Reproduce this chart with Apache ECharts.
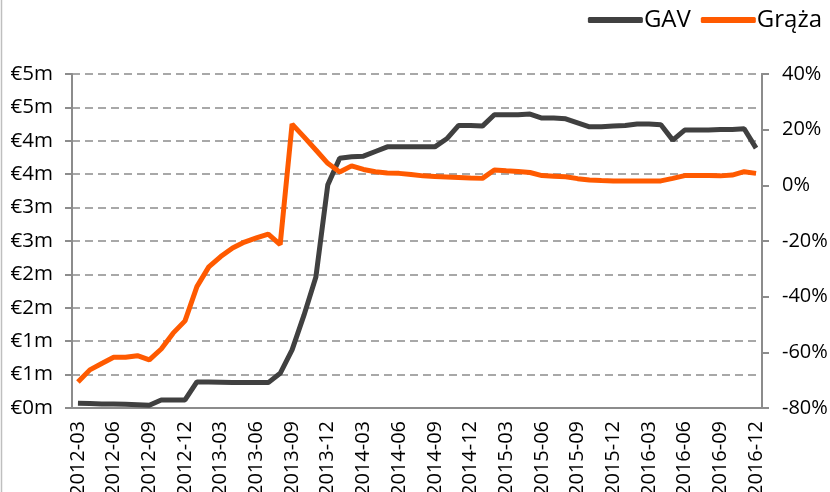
<!DOCTYPE html>
<html>
<head>
<meta charset="utf-8">
<script src="https://cdn.jsdelivr.net/npm/echarts@6/dist/echarts.min.js"></script>
<style>
html,body{margin:0;padding:0;background:#fff;}
#chart{width:830px;height:492px;}
</style>
</head>
<body>
<div id="chart"></div>
<script>
const months = [
  "2012-03","2012-04","2012-05","2012-06","2012-07","2012-08","2012-09","2012-10","2012-11","2012-12",
  "2013-01","2013-02","2013-03","2013-04","2013-05","2013-06","2013-07","2013-08","2013-09","2013-10","2013-11","2013-12",
  "2014-01","2014-02","2014-03","2014-04","2014-05","2014-06","2014-07","2014-08","2014-09","2014-10","2014-11","2014-12",
  "2015-01","2015-02","2015-03","2015-04","2015-05","2015-06","2015-07","2015-08","2015-09","2015-10","2015-11","2015-12",
  "2016-01","2016-02","2016-03","2016-04","2016-05","2016-06","2016-07","2016-08","2016-09","2016-10","2016-11","2016-12"
];
// GAV in € millions (left axis)
const gav = [
  0.07,0.067,0.06,0.06,0.055,0.05,0.04,0.12,0.12,0.12,
  0.39,0.39,0.385,0.38,0.38,0.38,0.38,0.52,0.87,1.39,1.96,3.34,
  3.74,3.76,3.77,3.84,3.91,3.91,3.91,3.91,3.91,4.03,4.23,4.23,
  4.22,4.39,4.39,4.39,4.40,4.34,4.34,4.33,4.27,4.21,4.21,4.22,
  4.23,4.25,4.25,4.24,4.01,4.16,4.16,4.16,4.17,4.17,4.18,3.89
];
// Grąża in % (right axis)
const graza = [
  -70.7,-66.3,-64.0,-61.8,-61.8,-61.2,-62.7,-58.8,-53.1,-48.7,
  -36.4,-29.3,-25.6,-22.5,-20.4,-18.9,-17.5,-21.3,22.0,17.4,12.7,7.9,
  4.8,7.0,5.7,4.9,4.4,4.3,3.9,3.4,3.2,3.0,2.8,2.6,
  2.5,5.5,5.2,5.0,4.6,3.5,3.3,3.1,2.4,1.9,1.7,1.6,
  1.6,1.6,1.6,1.6,2.5,3.5,3.5,3.5,3.4,3.7,4.9,4.3
];
const leftTicks = {min: 0, max: 5, step: 0.5};
const rightTicks = {min: -80, max: 40, step: 20};
const seriesNames = ["GAV", "Grąża"];
const seriesColors = ["#404040", "#FF5A00"];

const FONT = "Open Sans";
const axisGray = "#8c8c8c";
const chart = echarts.init(document.getElementById('chart'), null, {renderer: 'canvas'});
chart.setOption({
  animation: false,
  backgroundColor: '#fff',
  textStyle: {fontFamily: FONT, color: '#000'},
  graphic: [{
    type: 'line', shape: {x1: 1.5, y1: 0, x2: 1.5, y2: 492},
    style: {stroke: '#bfbfbf', lineWidth: 1.5}
  }],
  legend: {
    right: 3, top: 3,
    itemWidth: 55, itemHeight: 6, itemGap: 10,
    icon: 'roundRect',
    textStyle: {fontFamily: FONT, fontSize: 24, color: '#000', padding: [0,0,0,-4]},
    data: seriesNames
  },
  grid: {left: 72, right: 68, top: 74, bottom: 84, containLabel: false, outerBoundsMode: 'none'},
  xAxis: {
    type: 'category', data: months, boundaryGap: true,
    axisLine: {lineStyle: {color: axisGray, width: 2}},
    axisTick: {interval: 2, length: 7, lineStyle: {color: axisGray, width: 2}},
    axisLabel: {interval: 2, rotate: 90, margin: 13, fontSize: 20, fontFamily: FONT, color: '#000'}
  },
  yAxis: [{
    type: 'value', min: leftTicks.min, max: leftTicks.max, interval: leftTicks.step,
    axisLine: {show: true, lineStyle: {color: axisGray, width: 2}},
    axisTick: {show: true, length: 7, lineStyle: {color: axisGray, width: 2}},
    axisLabel: {margin: 19, fontSize: 20.5, fontFamily: FONT, color: '#000',
      formatter: v => '€' + Math.round(v) + 'm'},
    splitLine: {show: true, lineStyle: {color: axisGray, width: 1.6, type: [8, 5]}}
  }, {
    type: 'value', min: rightTicks.min, max: rightTicks.max, interval: rightTicks.step,
    position: 'right',
    axisLine: {show: true, lineStyle: {color: axisGray, width: 2}},
    axisTick: {show: true, length: 7, lineStyle: {color: axisGray, width: 2}},
    axisLabel: {margin: 20, fontSize: 20, fontFamily: FONT, color: '#000',
      formatter: v => v + '%'},
    splitLine: {show: false}
  }],
  series: [{
    name: seriesNames[0], type: 'line', yAxisIndex: 0, data: gav,
    symbol: 'none', lineStyle: {color: seriesColors[0], width: 5}, itemStyle: {color: seriesColors[0]}
  }, {
    name: seriesNames[1], type: 'line', yAxisIndex: 1, data: graza,
    symbol: 'none', lineStyle: {color: seriesColors[1], width: 5}, itemStyle: {color: seriesColors[1]}
  }]
});
</script>
</body>
</html>
